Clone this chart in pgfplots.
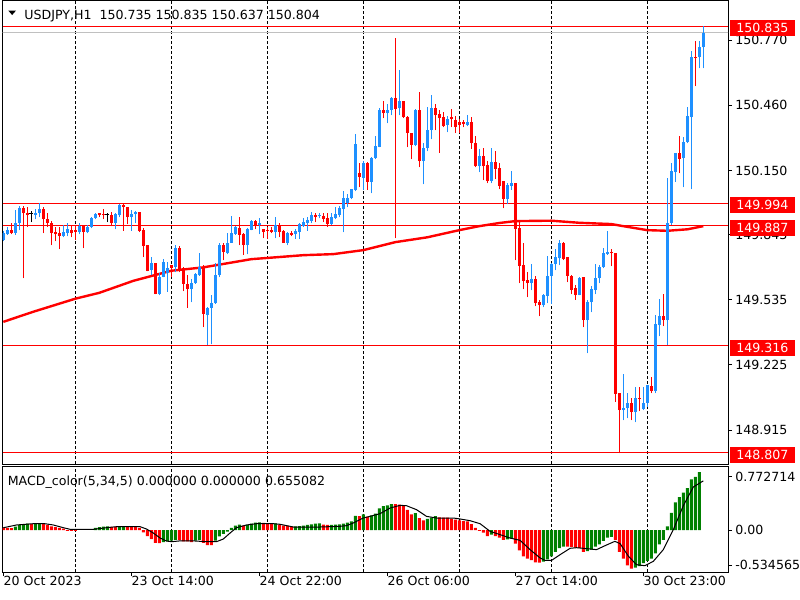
\documentclass[border=0pt]{standalone}
\usepackage{pgfplots}
\usepackage{pgfplotstable}
\pgfplotsset{compat=1.18}
\usepackage{fontspec}
\setmainfont{DejaVu Sans}

\definecolor{mtblue}{RGB}{30,144,255}
\definecolor{mtred}{RGB}{255,0,0}
\definecolor{mtgreen}{RGB}{0,128,0}
\definecolor{bidgray}{RGB}{192,192,192}

% USDJPY H1 candles, bar index i (0 = 20 Oct 06:00)
\pgfplotstableread{
i o h l c
0 149.819 149.862 149.814 149.852
1 149.847 149.881 149.843 149.866
2 149.866 149.900 149.847 149.852
3 149.852 149.961 149.843 149.900
4 149.900 149.981 149.866 149.971
5 149.971 149.981 149.638 149.947
6 149.947 149.976 149.881 149.938
7 149.947 149.957 149.904 149.947
8 149.938 149.966 149.919 149.947
9 149.947 149.995 149.928 149.966
10 149.966 149.976 149.852 149.919
11 149.919 149.947 149.881 149.900
12 149.900 149.909 149.795 149.852
13 149.857 149.881 149.814 149.847
14 149.852 149.881 149.776 149.838
15 149.838 149.890 149.833 149.857
16 149.852 149.900 149.838 149.871
17 149.866 149.885 149.833 149.852
18 149.866 149.890 149.819 149.857
19 149.857 149.900 149.847 149.885
20 149.885 149.890 149.781 149.857
21 149.857 149.890 149.852 149.881
22 149.881 149.928 149.876 149.923
23 149.923 149.947 149.919 149.942
24 149.947 149.947 149.928 149.938
25 149.942 149.966 149.919 149.938
26 149.942 149.947 149.904 149.942
27 149.938 149.952 149.885 149.900
28 149.900 149.947 149.871 149.942
29 149.938 149.990 149.928 149.985
30 149.985 149.995 149.862 149.976
31 149.976 149.976 149.895 149.928
32 149.928 149.961 149.862 149.942
33 149.942 149.957 149.900 149.952
34 149.952 149.952 149.857 149.862
35 149.866 149.876 149.738 149.790
36 149.795 149.795 149.671 149.671
37 149.676 149.738 149.652 149.709
38 149.709 149.709 149.562 149.562
39 149.562 149.662 149.557 149.643
40 149.643 149.729 149.643 149.714
41 149.662 149.714 149.572 149.686
42 149.700 149.700 149.643 149.686
43 149.690 149.795 149.667 149.781
44 149.781 149.790 149.667 149.671
45 149.686 149.690 149.576 149.610
46 149.610 149.652 149.496 149.586
47 149.586 149.633 149.524 149.614
48 149.614 149.662 149.610 149.657
49 149.652 149.757 149.648 149.690
50 149.690 149.700 149.405 149.467
51 149.462 149.500 149.320 149.496
52 149.496 149.557 149.324 149.519
53 149.519 149.709 149.515 149.652
54 149.652 149.805 149.643 149.795
55 149.795 149.805 149.724 149.762
56 149.757 149.852 149.752 149.805
57 149.805 149.933 149.805 149.852
58 149.847 149.885 149.843 149.881
59 149.876 149.928 149.795 149.843
60 149.847 149.852 149.748 149.795
61 149.795 149.876 149.752 149.871
62 149.866 149.914 149.866 149.909
63 149.909 149.914 149.871 149.890
64 149.890 149.923 149.847 149.900
65 149.871 149.871 149.828 149.857
66 149.866 149.881 149.824 149.862
67 149.866 149.881 149.852 149.857
68 149.857 149.928 149.828 149.890
69 149.890 149.900 149.833 149.857
70 149.862 149.866 149.805 149.805
71 149.805 149.857 149.795 149.852
72 149.852 149.862 149.838 149.843
73 149.847 149.871 149.824 149.862
74 149.857 149.900 149.824 149.895
75 149.885 149.923 149.881 149.904
76 149.900 149.928 149.862 149.914
77 149.909 149.952 149.900 149.938
78 149.938 149.947 149.904 149.928
79 149.933 149.947 149.923 149.938
80 149.933 149.947 149.904 149.919
81 149.923 149.947 149.881 149.895
82 149.895 149.947 149.890 149.928
83 149.923 149.976 149.919 149.942
84 149.938 149.981 149.928 149.971
85 149.966 150.052 149.857 150.019
86 149.995 150.038 149.976 150.019
87 150.019 150.061 150.014 150.061
88 150.057 150.323 150.052 150.275
89 150.137 150.185 150.071 150.118
90 150.114 150.194 150.057 150.185
91 150.185 150.190 150.057 150.095
92 150.095 150.214 150.042 150.209
93 150.209 150.313 150.204 150.266
94 150.261 150.446 150.261 150.437
95 150.437 150.480 150.399 150.423
96 150.423 150.466 150.375 150.437
97 150.437 150.499 150.413 150.494
98 150.494 150.779 149.828 150.442
99 150.446 150.627 150.413 150.480
100 150.480 150.480 150.399 150.404
101 150.404 150.408 150.261 150.328
102 150.328 150.328 150.204 150.271
103 150.271 150.442 150.266 150.437
104 150.437 150.523 150.166 150.194
105 150.194 150.280 150.085 150.256
106 150.256 150.451 150.242 150.342
107 150.342 150.508 150.299 150.446
108 150.446 150.466 150.342 150.413
109 150.418 150.437 150.233 150.399
110 150.404 150.427 150.356 150.361
111 150.366 150.408 150.332 150.394
112 150.404 150.442 150.356 150.394
113 150.389 150.408 150.328 150.356
114 150.380 150.394 150.328 150.366
115 150.380 150.389 150.356 150.370
116 150.366 150.413 150.361 150.380
117 150.380 150.404 150.252 150.280
118 150.280 150.313 150.166 150.171
119 150.171 150.252 150.142 150.218
120 150.218 150.256 150.104 150.171
121 150.175 150.194 150.090 150.099
122 150.099 150.256 150.090 150.190
123 150.190 150.242 150.109 150.156
124 150.161 150.185 150.061 150.076
125 150.099 150.099 149.971 150.014
126 150.014 150.090 149.990 150.080
127 150.076 150.147 150.057 150.090
128 150.090 150.090 149.724 149.871
129 149.876 149.904 149.614 149.695
130 149.700 149.805 149.586 149.624
131 149.629 149.667 149.548 149.614
132 149.614 149.705 149.581 149.633
133 149.633 149.648 149.505 149.519
134 149.524 149.534 149.457 149.510
135 149.510 149.562 149.500 149.557
136 149.553 149.743 149.519 149.648
137 149.648 149.709 149.515 149.705
138 149.705 149.776 149.676 149.738
139 149.733 149.819 149.700 149.805
140 149.805 149.809 149.724 149.729
141 149.738 149.738 149.619 149.648
142 149.648 149.652 149.562 149.581
143 149.591 149.605 149.534 149.557
144 149.557 149.643 149.557 149.638
145 149.643 149.643 149.405 149.438
146 149.438 149.534 149.281 149.524
147 149.524 149.600 149.476 149.586
148 149.581 149.705 149.562 149.638
149 149.638 149.700 149.614 149.690
150 149.690 149.781 149.686 149.757
151 149.752 149.862 149.748 149.762
152 149.762 149.776 149.695 149.757
153 149.757 149.757 149.049 149.087
154 149.091 149.091 148.806 149.010
155 149.010 149.182 148.963 149.020
156 149.020 149.091 148.972 149.044
157 149.044 149.068 148.963 149.001
158 149.001 149.120 148.953 149.068
159 149.068 149.120 149.006 149.063
160 149.015 149.120 149.010 149.044
161 149.044 149.129 149.025 149.129
162 149.125 149.167 149.091 149.101
163 149.101 149.462 149.091 149.419
164 149.415 149.538 149.362 149.457
165 149.457 149.562 149.410 149.438
166 149.438 150.114 149.320 149.900
167 149.900 150.185 149.890 150.147
168 150.142 150.233 150.095 150.233
169 150.233 150.313 150.137 150.204
170 150.209 150.309 150.071 150.285
171 150.285 150.451 150.280 150.408
172 150.404 150.717 150.061 150.689
173 150.689 150.765 150.551 150.684
174 150.689 150.765 150.637 150.737
175 150.735 150.835 150.637 150.804
}\candles

% MACD_color histogram (g=1 green, g=0 red)
\pgfplotstableread{
i v g
0 0.030 0
1 0.030 0
2 0.025 0
3 0.045 1
4 0.065 1
5 0.080 1
6 0.085 1
7 0.080 0
8 0.090 1
9 0.090 1
10 0.080 0
11 0.070 0
12 0.050 0
13 0.040 0
14 0.030 0
15 0.020 0
16 -0.010 0
17 -0.012 0
18 -0.012 0
23 0.030 1
24 0.040 1
25 0.045 1
26 0.047 1
27 0.043 0
28 0.043 0
29 0.050 1
30 0.050 1
31 0.045 0
32 0.043 0
33 0.040 0
34 0.030 0
35 -0.030 0
36 -0.080 0
37 -0.120 0
38 -0.170 0
39 -0.175 0
40 -0.160 1
41 -0.150 1
42 -0.140 1
43 -0.130 1
44 -0.135 0
45 -0.150 0
46 -0.150 0
47 -0.160 0
48 -0.140 1
49 -0.130 1
50 -0.170 0
51 -0.200 0
52 -0.200 0
53 -0.140 1
54 -0.085 1
55 -0.050 1
56 -0.020 1
57 0.030 1
58 0.058 1
59 0.072 1
60 0.058 0
61 0.067 1
62 0.085 1
63 0.100 1
64 0.102 1
65 0.095 0
66 0.093 0
67 0.085 0
68 0.087 1
69 0.072 0
70 0.058 0
71 0.057 0
72 0.048 0
73 0.050 1
74 0.052 1
75 0.058 1
76 0.067 1
77 0.076 1
78 0.085 1
79 0.087 1
80 0.072 0
81 0.067 0
82 0.068 1
83 0.072 1
84 0.076 1
85 0.085 1
86 0.100 1
87 0.115 1
88 0.190 1
89 0.185 0
90 0.210 1
91 0.180 0
92 0.195 1
93 0.220 1
94 0.290 1
95 0.320 1
96 0.330 1
97 0.345 1
98 0.344 0
99 0.340 0
100 0.320 0
101 0.270 0
102 0.210 0
103 0.225 1
104 0.160 0
105 0.130 0
106 0.150 1
107 0.165 1
108 0.185 1
109 0.170 0
110 0.165 0
111 0.164 0
112 0.150 0
113 0.140 0
114 0.130 0
115 0.120 0
116 0.115 0
117 0.080 0
118 0.030 0
119 -0.010 0
120 -0.035 0
121 -0.080 0
122 -0.060 1
123 -0.080 0
124 -0.100 0
125 -0.130 0
126 -0.125 1
127 -0.115 1
128 -0.180 0
129 -0.270 0
130 -0.350 0
131 -0.380 0
132 -0.400 0
133 -0.430 0
134 -0.435 0
135 -0.420 1
136 -0.390 1
137 -0.350 1
138 -0.290 1
139 -0.240 1
140 -0.220 1
141 -0.222 0
142 -0.224 0
143 -0.235 0
144 -0.240 0
145 -0.290 0
146 -0.280 1
147 -0.260 1
148 -0.220 1
149 -0.190 1
150 -0.145 1
151 -0.100 1
152 -0.090 1
153 -0.130 0
154 -0.290 0
155 -0.380 0
156 -0.470 0
157 -0.515 0
158 -0.500 1
159 -0.480 1
160 -0.440 1
161 -0.410 1
162 -0.380 1
163 -0.310 1
164 -0.190 1
165 -0.130 1
166 0.050 1
167 0.230 1
168 0.370 1
169 0.440 1
170 0.500 1
171 0.560 1
172 0.675 1
173 0.710 1
174 0.7727 1
}\macd

\pgfplotsset{
  mtframe/.style={
    scale only axis, width=362.65pt,
    xmin=-0.15, xmax=181.175,
    axis line style={black, line width=0.5pt},
    tick style={black, line width=0.5pt},
    tick align=outside, major tick length=2pt,
    ytick pos=right, yticklabel pos=right,
    tick label style={font=\fontsize{6.3}{7.6}\selectfont},
    yticklabel style={anchor=west, inner sep=0pt, xshift=1.5pt},
    /pgf/number format/assume math mode=true,
    extra x ticks={18,42,66,90,114,137,161},
    extra x tick labels={},
    extra x tick style={grid=major, major tick length=0pt,
      major grid style={black, line width=0.5pt, dash pattern=on 1.5pt off 1pt}},
  },
  % candle part drawn as a vertical error bar with no visible marker
  candle/.style={only marks, mark=*, mark size=0pt,
    mark options={draw=none, fill=none},
    error bars/y dir=plus, error bars/y explicit, error bars/error mark=none,
    error bars/error bar style={#1}},
}

\begin{document}
\begin{tikzpicture}[font=\fontsize{6.3}{7.6}\selectfont]
\useasboundingbox[fill=white] (0,0) rectangle (400pt,-300pt);

% price window
\begin{axis}[mtframe,
  at={(1.35pt,-0.25pt)}, anchor=north west, height=231.75pt,
  ymin=148.754, ymax=150.958,
  xtick=\empty,
  ytick={148.915,149.225,149.535,149.843,150.150,150.460,150.770},
  yticklabels={148.915,149.225,149.535,149.843,150.150,150.460,150.770},
  extra y ticks={150.835,149.994,149.887,149.316,148.807},
  extra y tick labels={150.835,149.994,149.887,149.316,148.807},
  extra y tick style={grid=major, major tick length=0pt,
    major grid style={mtred, line width=0.5pt},
    yticklabel style={fill=mtred, text=white, inner xsep=3pt,
      inner ysep=0pt, minimum height=8pt, xshift=-0.5pt, yshift=-0.9pt}},
]
\addplot[bidgray, line width=0.5pt] coordinates {(-1,150.804) (182,150.804)};

% moving average
\addplot[mtred, line width=1.2pt] coordinates {
(0,149.430) (7.5,149.478) (18,149.540) (24,149.568) (32.5,149.625)
(42,149.673) (50,149.689) (62,149.728) (75,149.747) (82.5,149.752)
(90,149.771) (98,149.809) (106,149.832) (114,149.866) (119,149.885)
(124,149.900) (128,149.909) (137,149.911) (144,149.901) (152,149.895)
(155,149.885) (161,149.866) (166,149.863) (171,149.870) (175,149.885)};

% bull candles
\addplot[candle={draw=mtblue, line width=0.5pt},
  restrict expr to domain={\thisrow{c}-\thisrow{o}}{0.00001:10}]
  table[x=i, y=l, y error plus expr={\thisrow{h}-\thisrow{l}}] {\candles};
\addplot[candle={draw=mtblue, line width=1.5pt},
  restrict expr to domain={\thisrow{c}-\thisrow{o}}{0.00001:10}]
  table[x=i, y=o, y error plus expr={\thisrow{c}-\thisrow{o}}] {\candles};
% bear candles
\addplot[candle={draw=mtred, line width=0.5pt},
  restrict expr to domain={\thisrow{c}-\thisrow{o}}{-10:-0.00001}]
  table[x=i, y=l, y error plus expr={\thisrow{h}-\thisrow{l}}] {\candles};
\addplot[candle={draw=mtred, line width=1.5pt},
  restrict expr to domain={\thisrow{c}-\thisrow{o}}{-10:-0.00001}]
  table[x=i, y=c, y error plus expr={\thisrow{o}-\thisrow{c}}] {\candles};
% doji
\addplot[candle={draw=black, line width=0.5pt},
  restrict expr to domain={\thisrow{c}-\thisrow{o}}{-0.00001:0.00001}]
  table[x=i, y=l, y error plus expr={\thisrow{h}-\thisrow{l}}] {\candles};
\addplot[only marks, mark=-, mark size=0.9pt, mark options={black, line width=0.5pt},
  restrict expr to domain={\thisrow{c}-\thisrow{o}}{-0.00001:0.00001}]
  table[x=i, y=o] {\candles};
\end{axis}

% MACD window
\begin{axis}[mtframe,
  at={(1.35pt,-233pt)}, anchor=north west, height=53pt,
  ymin=-0.56, ymax=0.8533,
  xtick={0,32,64,96,128,160},
  xticklabels={20 Oct 2023, 23 Oct 14:00, 24 Oct 22:00, 26 Oct 06:00, 27 Oct 14:00, 30 Oct 23:00},
  xtick pos=left,
  xticklabel style={anchor=north west, inner sep=0pt},
  ytick={-0.4667,0,0.7067},
  yticklabels={-0.534565,0.00,0.772714},
]
\addplot[ybar, bar width=1.5pt, bar shift=0pt, fill=mtgreen, draw=none,
  restrict expr to domain={\thisrow{g}}{0.5:1.5}] table[x=i, y=v] {\macd};
\addplot[ybar, bar width=1.5pt, bar shift=0pt, fill=mtred, draw=none,
  restrict expr to domain={\thisrow{g}}{-0.5:0.5}] table[x=i, y=v] {\macd};
\addplot[black, line width=0.5pt] coordinates {
(0,0.030) (3.3,0.067) (7.5,0.084) (10.4,0.084) (12.5,0.067) (15,0.031)
(16.7,0.009) (18.3,0.009) (22.5,0.009) (25.8,0.031) (28.3,0.044) (34.2,0.044)
(35.8,0.013) (37.5,-0.040) (39.2,-0.107) (40.8,-0.147) (42.1,-0.156) (44.2,-0.145)
(47.5,-0.145) (50.8,-0.156) (53.3,-0.156) (55,-0.120) (56.7,-0.040) (58.3,0.031)
(60.8,0.067) (63.3,0.084) (67.5,0.084) (69.2,0.076) (72.5,0.040) (75.8,0.040)
(79.2,0.040) (84.2,0.049) (85.8,0.058) (87.5,0.093) (90,0.160) (91.7,0.182)
(94.2,0.218) (96.7,0.293) (99.2,0.329) (100.8,0.324) (103.3,0.271) (105.8,0.182)
(108.3,0.160) (112.5,0.160) (114.2,0.147) (116.7,0.124) (119.2,0.084) (121.7,-0.018)
(124.2,-0.062) (126.7,-0.107) (129.2,-0.138) (131.7,-0.262) (134.2,-0.373) (135.4,-0.404)
(137.1,-0.404) (139.2,-0.329) (141.7,-0.244) (143.3,-0.236) (145,-0.244) (148.3,-0.262)
(150.8,-0.200) (152.9,-0.151) (154.2,-0.182) (156.3,-0.351) (158.3,-0.462) (160.4,-0.476)
(162.5,-0.418) (165,-0.262) (167.5,0.004) (170,0.324) (172.5,0.573) (175,0.655)};
\end{axis}

% window headers
\fill (4.15pt,-5.3pt) -- (8pt,-5.3pt) -- (6.07pt,-7.5pt) -- cycle;
\node[anchor=base west, inner sep=0pt] at (12pt,-9.65pt)
  {USDJPY,H1\ \ 150.735 150.835 150.637 150.804};
\node[anchor=base west, inner sep=0pt] at (3.7pt,-242.6pt)
  {MACD\_color(5,34,5) 0.000000 0.000000 0.655082};
\end{tikzpicture}
\end{document}
